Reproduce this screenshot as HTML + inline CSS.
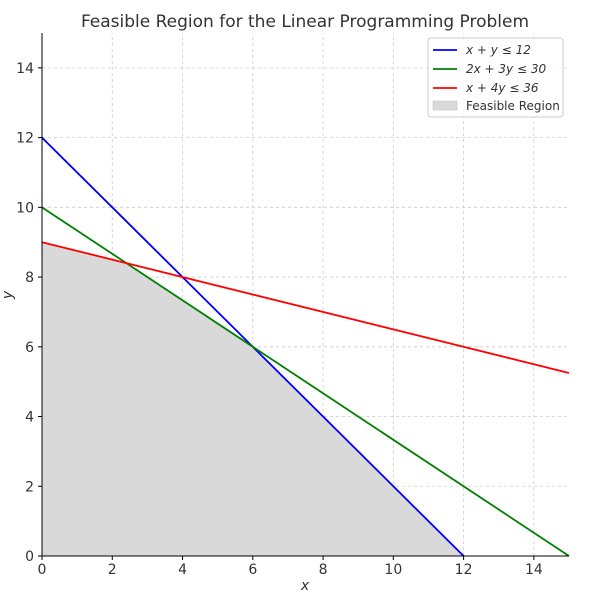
<!DOCTYPE html>
<html><head><meta charset="utf-8"><style>
body{margin:0;background:#fff;font-family:"DejaVu Sans","Liberation Sans",sans-serif}
</style></head><body>
<svg id="c" width="610" height="599" xmlns="http://www.w3.org/2000/svg"></svg>
<script>
const xTicks=[0,2,4,6,8,10,12,14];
const yTicks=[0,2,4,6,8,10,12,14];
const lineLabels=["x + y ≤ 12","2x + 3y ≤ 30","x + 4y ≤ 36"];
const lineColors=["#0000ff","#008000","#ff0000"];
const lineA=[1,2,1];
const lineB=[1,3,4];
const lineC=[12,30,36];
const lineXmax=[12,15,15];
const regionX=[0,0,2.4,6,12];
const regionY=[0,9,8.4,6,0];
const NS="http://www.w3.org/2000/svg";
const svg=document.getElementById('c');
const X=v=>42+v*(527/15), Y=v=>556-v*(523/15);
function mk(t,a,p){const e=document.createElementNS(NS,t);for(const k in a)e.setAttribute(k,a[k]);(p||svg).appendChild(e);return e;}
// grid
xTicks.forEach(t=>{const g=mk('line',{x1:X(t),x2:X(t),y1:Y(0),y2:Y(15),stroke:'#ccc','stroke-dasharray':'3,3','stroke-width':0.8});
});
yTicks.forEach(t=>{const g=mk('line',{x1:X(0),x2:X(15),y1:Y(t),y2:Y(t),stroke:'#ccc','stroke-dasharray':'3,3','stroke-width':0.8});
});
// region
const poly=mk('polygon',{points:regionX.map((x,i)=>X(x)+','+Y(regionY[i])).join(' '),fill:'#d9d9d9'});

// lines
lineA.forEach((a,i)=>{const y0=lineC[i]/lineB[i],x1=lineXmax[i],y1=(lineC[i]-a*x1)/lineB[i];
const l=mk('line',{x1:X(0),y1:Y(y0),x2:X(x1),y2:Y(y1),stroke:lineColors[i],'stroke-width':1.8});
});
// axes
const ax=mk('line',{x1:X(0),x2:X(15),y1:Y(0),y2:Y(0),stroke:'#000','stroke-width':1});

const ay=mk('line',{x1:X(0),x2:X(0),y1:Y(0),y2:Y(15),stroke:'#000','stroke-width':1});

xTicks.forEach(t=>{mk('line',{x1:X(t),x2:X(t),y1:556,y2:560,stroke:'#000'});
const tx=mk('text',{x:X(t),y:574,'text-anchor':'middle','font-size':14,fill:'#333'});tx.textContent=t;
});
yTicks.forEach(t=>{mk('line',{x1:38,x2:42,y1:Y(t),y2:Y(t),stroke:'#000'});
const tx=mk('text',{x:34,y:Y(t)+5,'text-anchor':'end','font-size':14,fill:'#333'});tx.textContent=t;
});
const title=mk('text',{x:305,y:27,'text-anchor':'middle','font-size':17,fill:'#333'});title.textContent='Feasible Region for the Linear Programming Problem';

const xl=mk('text',{x:305,y:590,'text-anchor':'middle','font-size':14,'font-style':'italic',fill:'#333'});xl.textContent='x';

const yl=mk('text',{x:12,y:295,'text-anchor':'middle','font-size':14,'font-style':'italic',fill:'#333',transform:'rotate(-90 12 295)'});yl.textContent='y';

// legend
const lg=mk('g',{});
mk('rect',{x:428,y:38,width:135,height:79,rx:3,fill:'#fff','fill-opacity':0.85,stroke:'#ccc'},lg);
lineLabels.forEach((s,i)=>{const y=50+i*19;
mk('line',{x1:433,x2:457,y1:y,y2:y,stroke:lineColors[i],'stroke-width':1.8},lg);
const t=mk('text',{x:466,y:y+4,'font-size':12,'font-style':'italic',fill:'#333'},lg);t.textContent=s;
});
mk('rect',{x:433,y:101,width:24,height:9,fill:'#d9d9d9',stroke:'#bbb','stroke-width':0.5},lg);
const ft=mk('text',{x:466,y:110,'font-size':12,fill:'#333'},lg);ft.textContent='Feasible Region';

</script>
</body></html>
